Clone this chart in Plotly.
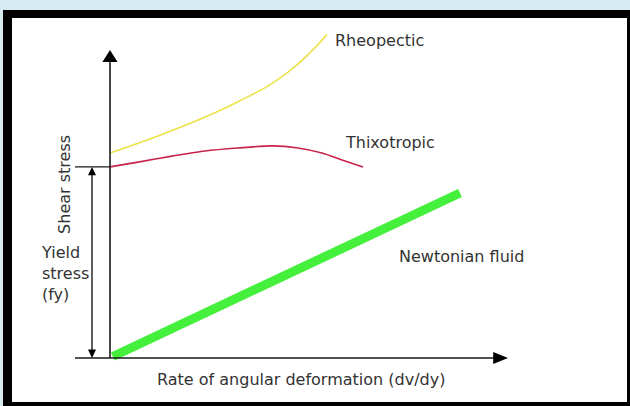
import plotly.graph_objects as go

# ---- data (rate of angular deformation vs shear stress, arbitrary units) ----
rheo_x = [0.0, 1.55, 3.2, 4.45, 5.425]
rheo_y = [6.83, 7.58, 8.54, 9.53, 10.78]

thix_x = [0.0, 0.7, 1.55, 2.375, 3.2, 4.05, 4.7, 5.3, 5.8, 6.325]
thix_y = [6.37, 6.53, 6.73, 6.9, 7.0, 7.07, 7.0, 6.83, 6.6, 6.37]

newt_x = [0.07, 8.75]
newt_y = [0.05, 5.5]

yield_stress = 6.37
labels = ["Rheopectic", "Thixotropic", "Newtonian fluid"]
x_title = "Rate of angular deformation (dv/dy)"
y_title = "Shear stress"
yield_label = "Yield<br>stress<br>(fy)"

# ---- figure ----
W, H = 630, 406
FONT = "DejaVu Sans"
TXT = "#333333"
AX = "#1a1a1a"

fig = go.Figure()
fig.add_trace(go.Scatter(x=newt_x, y=newt_y, mode="lines",
                         line=dict(color="#44f03c", width=9), hoverinfo="skip"))
fig.add_trace(go.Scatter(x=rheo_x, y=rheo_y, mode="lines",
                         line=dict(color="#ece24a", width=1.6, shape="spline", smoothing=1.3),
                         hoverinfo="skip"))
fig.add_trace(go.Scatter(x=thix_x, y=thix_y, mode="lines",
                         line=dict(color="#c8234b", width=1.6, shape="spline", smoothing=0.8),
                         hoverinfo="skip"))

shapes = []
# frame (paper coords)
shapes.append(dict(type="rect", xref="paper", yref="paper",
                   x0=3 / W, x1=1.01, y0=-0.01, y1=1 - 10 / H,
                   fillcolor="black", line=dict(width=0), layer="below"))
shapes.append(dict(type="rect", xref="paper", yref="paper",
                   x0=12 / W, x1=627 / W, y0=1 - 402 / H, y1=1 - 18 / H,
                   fillcolor="white", line=dict(width=0), layer="below"))

# axes
shapes.append(dict(type="line", x0=0, x1=0, y0=0, y1=9.9, line=dict(color=AX, width=1.6)))
shapes.append(dict(type="line", x0=-0.875, x1=9.6, y0=0, y1=0, line=dict(color=AX, width=1.6)))
shapes.append(dict(type="path", path="M -0.19 9.87 L 0.19 9.87 L 0 10.27 Z",
                   fillcolor="black", line=dict(width=0)))
shapes.append(dict(type="path", path="M 9.58 0.2 L 9.58 -0.2 L 9.95 0 Z",
                   fillcolor="black", line=dict(width=0)))
# yield stress tick line
shapes.append(dict(type="line", x0=-0.875, x1=0, y0=yield_stress, y1=yield_stress,
                   line=dict(color=AX, width=1.4)))
# double arrow for yield stress
xa = -0.45
shapes.append(dict(type="line", x0=xa, x1=xa, y0=0.25, y1=yield_stress - 0.25,
                   line=dict(color=AX, width=1.4)))
shapes.append(dict(type="path",
                   path=f"M {xa-0.1} {yield_stress-0.28} L {xa+0.1} {yield_stress-0.28} L {xa} {yield_stress} Z",
                   fillcolor="black", line=dict(width=0)))
shapes.append(dict(type="path",
                   path=f"M {xa-0.1} 0.28 L {xa+0.1} 0.28 L {xa} 0 Z",
                   fillcolor="black", line=dict(width=0)))

ann = []
def txt(x, y, s, xanchor="left", angle=0, align="left"):
    ann.append(dict(x=x, y=y, text=s, showarrow=False, xanchor=xanchor, yanchor="middle",
                    textangle=angle, align=align,
                    font=dict(family=FONT, size=16, color=TXT)))

txt(5.575, 10.6, labels[0])
txt(5.825, 7.17, labels[1])
txt(7.175, 3.37, labels[2])
txt(4.775, -0.7, x_title, xanchor="center")
txt(-1.125, 5.77, y_title, xanchor="center", angle=-90)
txt(-1.77, 2.83, yield_label)

fig.update_layout(
    width=W, height=H, autosize=False,
    margin=dict(l=0, r=0, t=0, b=0, pad=0),
    paper_bgcolor="#d6ebf1", plot_bgcolor="rgba(0,0,0,0)",
    showlegend=False, shapes=shapes, annotations=ann,
    xaxis=dict(range=[-2.75, 13.0], visible=False, fixedrange=True),
    yaxis=dict(range=[-1.6, 358 / 30], visible=False, fixedrange=True),
)
fig.write_html("out.html", config={"displayModeBar": False},
               post_script="document.body.style.margin='0';document.body.style.overflow='hidden';")
